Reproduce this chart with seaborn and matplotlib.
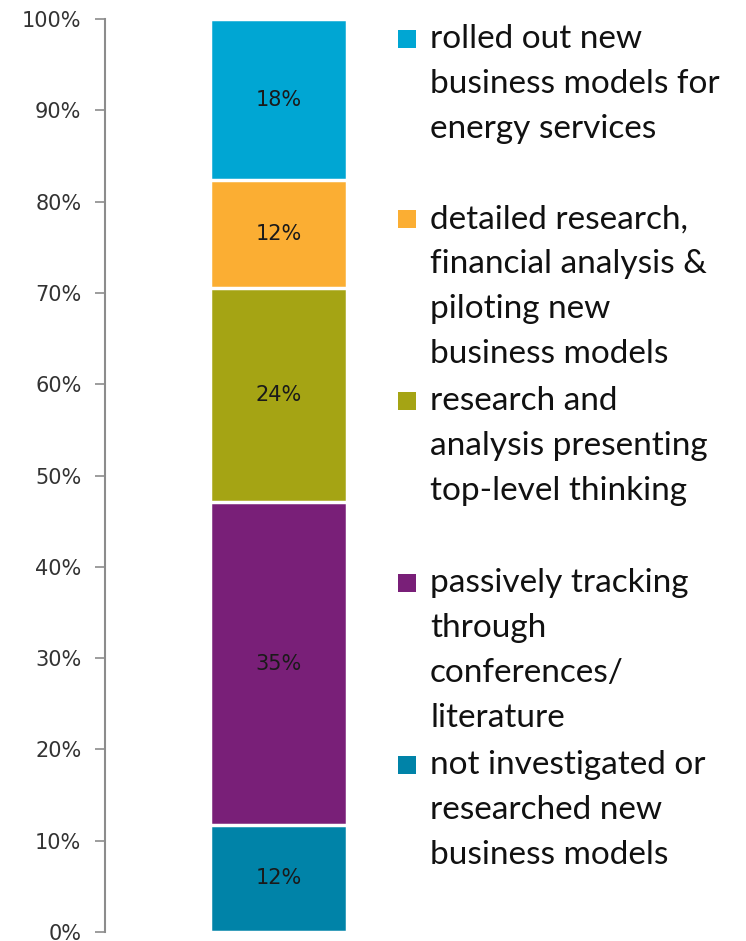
import numpy as np
import pandas as pd
import matplotlib
matplotlib.use("Agg")
import matplotlib.pyplot as plt
import seaborn as sns
from matplotlib.patches import Rectangle

# ---- data (bottom to top) ----
categories = [
    "not investigated or\nresearched new\nbusiness models",
    "passively tracking\nthrough\nconferences/\nliterature",
    "research and\nanalysis presenting\ntop-level thinking",
    "detailed research,\nfinancial analysis &\npiloting new\nbusiness models",
    "rolled out new\nbusiness models for\nenergy services",
]
values = [11.76, 35.29, 23.53, 11.76, 17.65]
colors = ["#0083A8", "#791F78", "#A5A414", "#FBAE33", "#00A6D3"]
yticks = [0, 10, 20, 30, 40, 50, 60, 70, 80, 90, 100]
ytick_labels = [f"{t}%" for t in yticks]

sns.set_style("white")
plt.rcParams["font.family"] = ["DejaVu Sans"]

W, H = 746, 941
fig = plt.figure(figsize=(W / 100, H / 100), dpi=100)
ax_left, ax_right, ax_top, ax_bot = 105, 380, 19, 932
ax = fig.add_axes([ax_left / W, (H - ax_bot) / H, (ax_right - ax_left) / W, (ax_bot - ax_top) / H])

cum = np.cumsum(values)

# draw tallest first so shorter stacks overlay
for i in range(len(values) - 1, -1, -1):
    sns.barplot(x=["A"], y=[cum[i]], color=colors[i], width=0.5,
                edgecolor="white", linewidth=2.5, saturation=1, ax=ax)

bottoms = np.concatenate([[0], cum[:-1]])
for v, b in zip(values, bottoms):
    ax.text(0, b + v / 2, f"{v:.0f}%", ha="center", va="center",
            fontsize=15, color="#1a1a1a")

ax.set_ylim(0, 100)
px_per_unit = 137 / 0.5
xl = -0.25 - (210 - ax_left) / px_per_unit
xr = 0.25 + (ax_right - 347) / px_per_unit
ax.set_xlim(xl, xr)

ax.set_yticks(yticks)
ax.set_yticklabels(ytick_labels)
ax.tick_params(axis="y", direction="out", length=7, width=1.2, color="#8c8c8c",
               labelsize=15, labelcolor="#333333", pad=10, left=True)
ax.set_xticks([])
ax.set_xlabel("")
ax.set_ylabel("")
for s in ["top", "right", "bottom"]:
    ax.spines[s].set_visible(False)
ax.spines["left"].set_color("#8c8c8c")
ax.spines["left"].set_linewidth(1.5)

# ---- legend (manual, top entries first) ----
centers = [765, 583, 401, 219, 39]
sq = 18
pitch = 45
for cat, col, cy in zip(categories, colors, centers):
    n = cat.count("\n")
    fig.patches.append(Rectangle((398 / W, (H - cy - sq / 2) / H), sq / W, sq / H,
                                 transform=fig.transFigure, facecolor=col,
                                 edgecolor="none"))
    fig.text(430 / W, (H - cy - 9 - n * pitch) / H, cat, ha="left", va="baseline",
             fontsize=24, family=["Lato", "DejaVu Sans"], color="#111111",
             linespacing=1.62)

fig.savefig("out.png", dpi=100)
